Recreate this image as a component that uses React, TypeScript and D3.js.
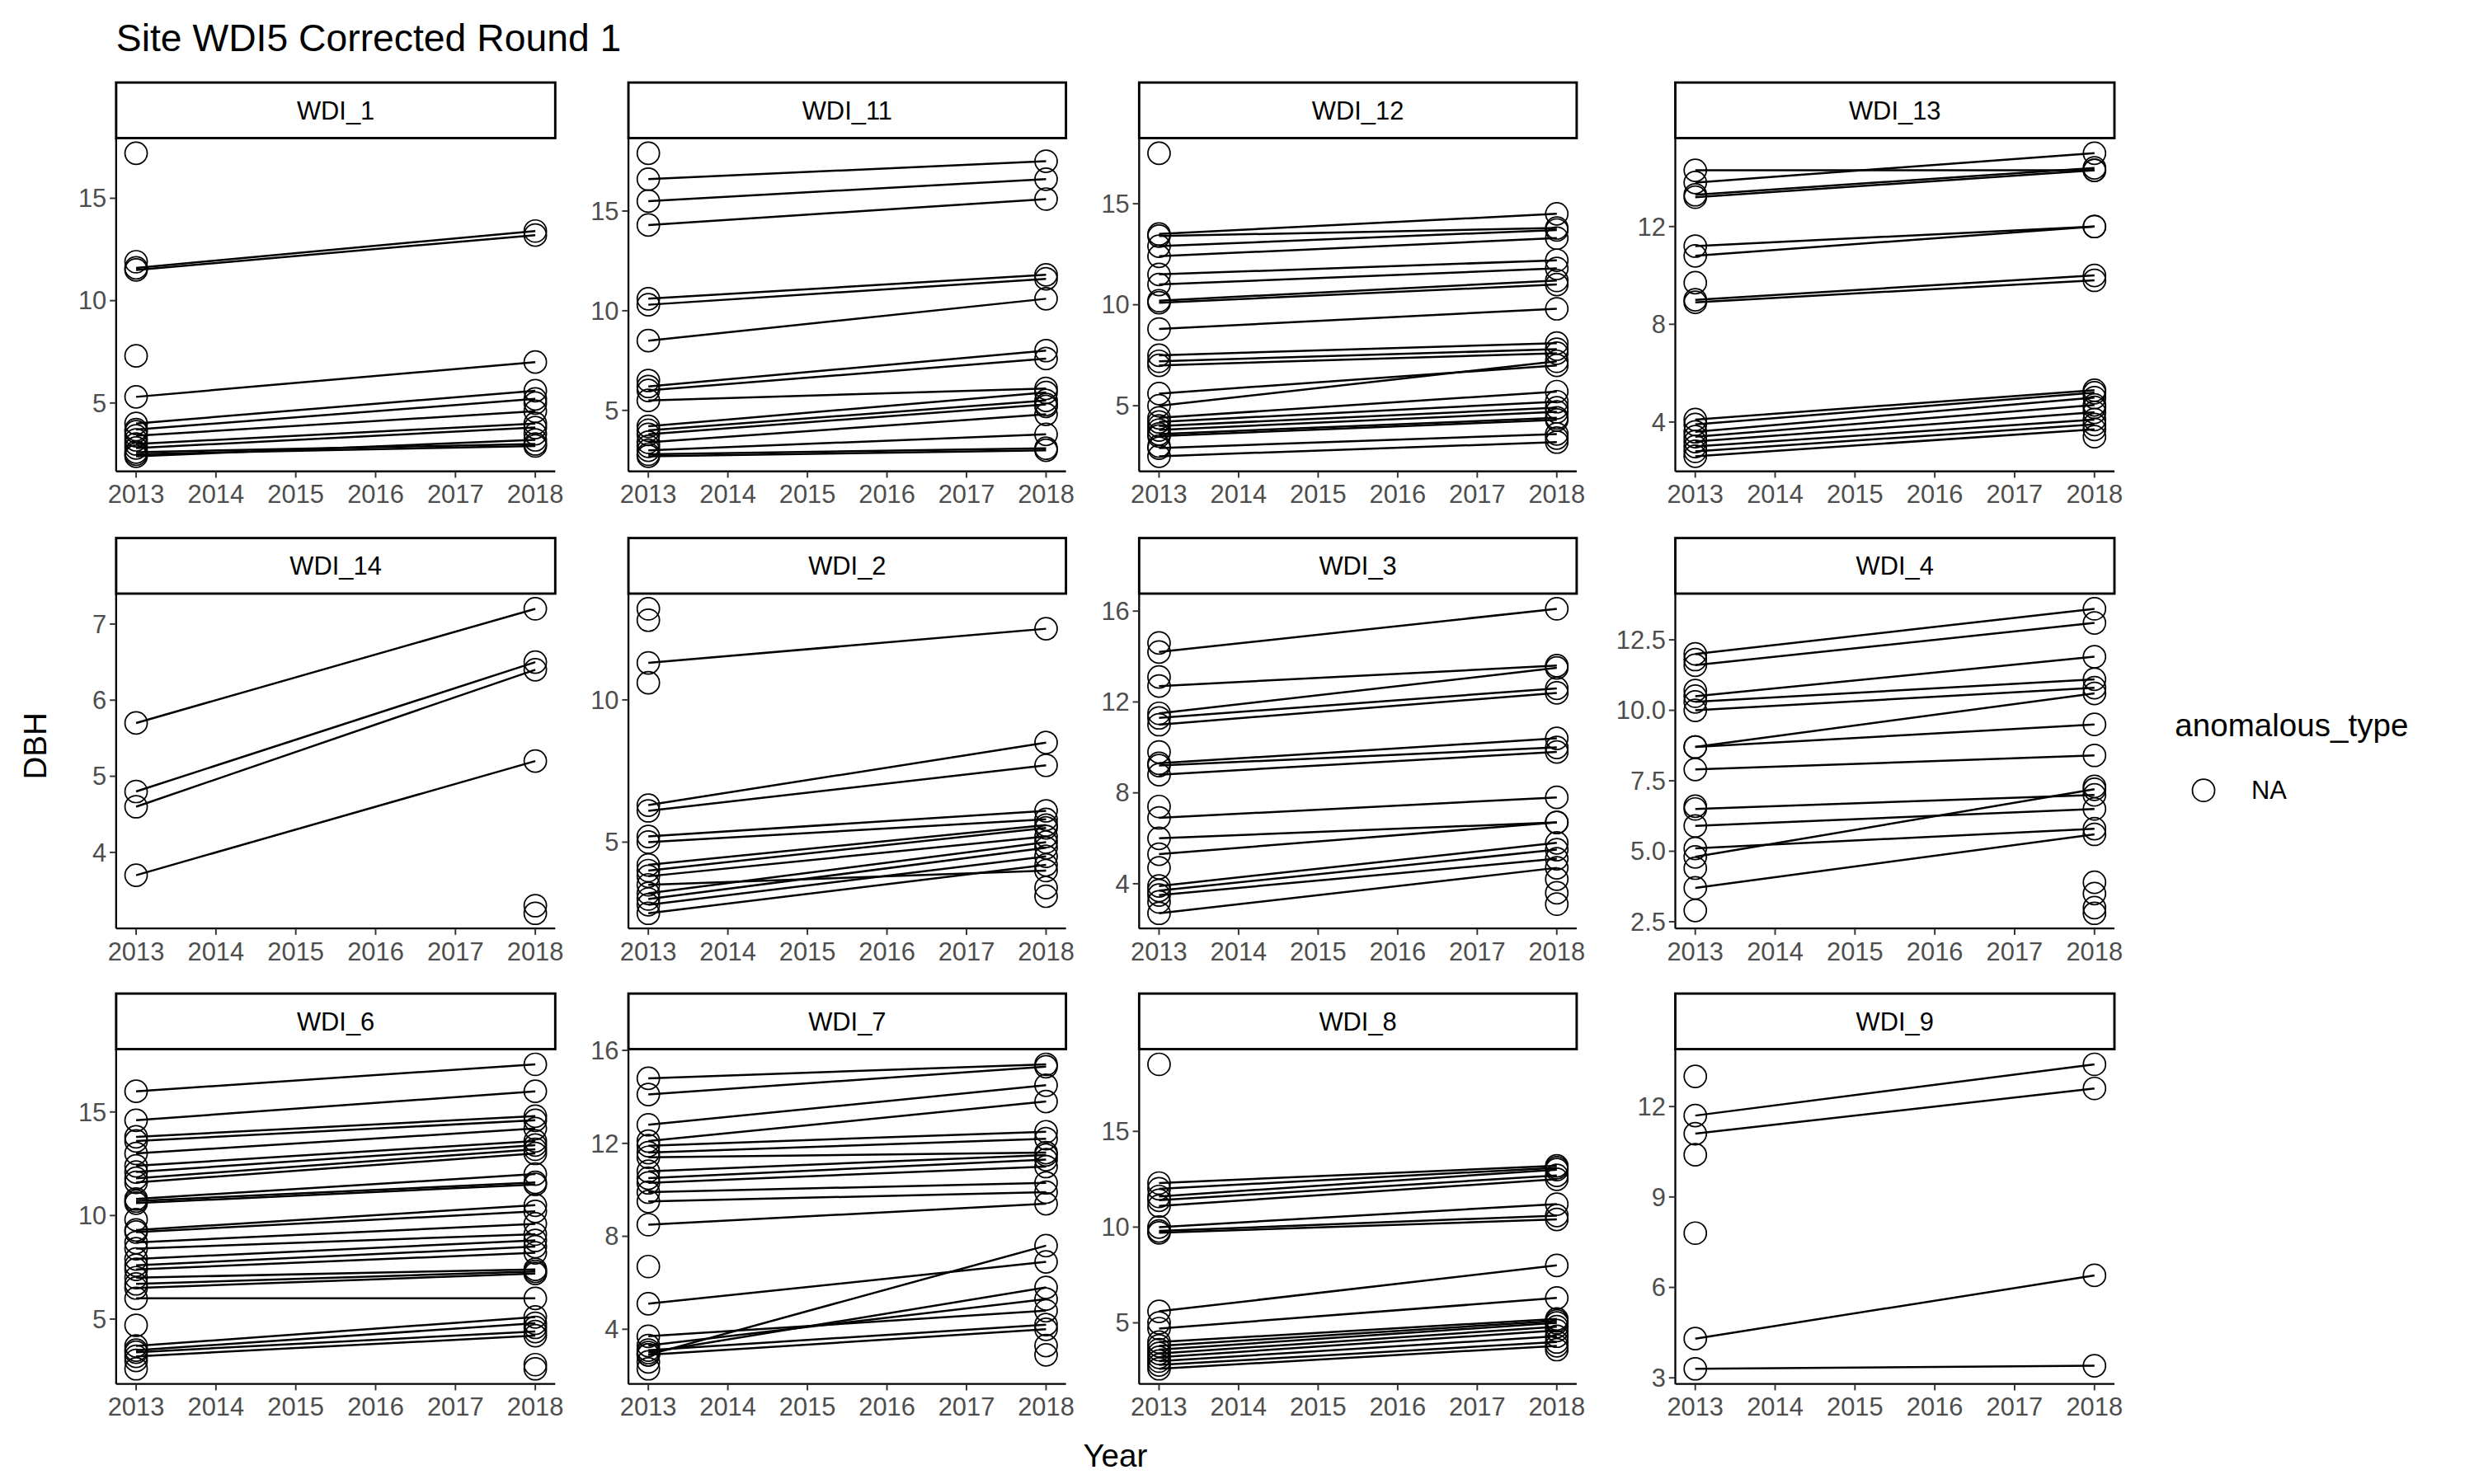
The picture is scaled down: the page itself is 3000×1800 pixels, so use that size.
import React from "react";
import * as d3 from "d3";

type Panel = {
	name: string;
	pairs: [number, number][];
	only2013: number[];
	only2018: number[];
	ticks: number[];
};

const years = [2013, 2014, 2015, 2016, 2017, 2018];

const wdi1: Panel = {
	name: "WDI_1",
	pairs: [[11.6, 13.4], [11.5, 13.2], [5.3, 7.0], [4.0, 5.6], [3.7, 5.2], [3.4, 4.6], [3.0, 4.0], [2.8, 3.8], [2.6, 3.0], [2.5, 2.9], [2.4, 3.2]],
	only2013: [17.2, 11.9, 7.3, 3.6, 3.2],
	only2018: [5.0, 3.5],
	ticks: [5, 10, 15],
};
const wdi11: Panel = {
	name: "WDI_11",
	pairs: [[16.6, 17.5], [15.5, 16.6], [14.3, 15.6], [10.6, 11.8], [10.3, 11.6], [8.5, 10.6], [6.2, 8.0], [6.0, 7.6], [5.5, 6.1], [4.2, 5.9], [4.0, 5.5], [3.8, 5.3], [3.4, 4.8], [3.0, 3.8], [2.8, 3.1], [2.7, 3.0]],
	only2013: [17.9, 6.5, 3.2],
	only2018: [5.2],
	ticks: [5, 10, 15],
};
const wdi12: Panel = {
	name: "WDI_12",
	pairs: [[13.5, 14.5], [13.4, 13.8], [12.9, 13.7], [12.4, 13.3], [11.5, 12.2], [11.0, 11.8], [10.2, 11.2], [10.1, 11.0], [8.8, 9.8], [7.5, 8.1], [7.2, 7.8], [7.0, 7.6], [5.6, 7.0], [5.0, 7.2], [4.4, 5.7], [4.2, 5.2], [4.0, 4.9], [3.8, 4.7], [3.6, 4.4], [3.5, 4.3], [2.9, 3.6], [2.5, 3.2]],
	only2013: [17.5, 3.0],
	only2018: [3.4],
	ticks: [5, 10, 15],
};
const wdi13: Panel = {
	name: "WDI_13",
	pairs: [[14.3, 14.3], [13.8, 15.0], [13.3, 14.4], [13.2, 14.3], [11.2, 12.0], [10.8, 12.0], [9.0, 10.0], [8.9, 9.8], [4.1, 5.3], [3.9, 5.2], [3.6, 5.0], [3.4, 4.7], [3.2, 4.4], [3.0, 4.1], [2.8, 3.9], [2.6, 3.7]],
	only2013: [9.7],
	only2018: [3.4, 4.6],
	ticks: [4, 8, 12],
};
const wdi14: Panel = {
	name: "WDI_14",
	pairs: [[5.7, 7.2], [4.8, 6.5], [4.6, 6.4], [3.7, 5.2]],
	only2013: [],
	only2018: [3.3, 3.2],
	ticks: [4, 5, 6, 7],
};
const wdi2: Panel = {
	name: "WDI_2",
	pairs: [[11.3, 12.5], [6.3, 8.5], [6.1, 7.7], [5.2, 6.1], [5.0, 5.8], [4.2, 5.6], [4.0, 5.5], [3.8, 5.2], [3.2, 5.0], [3.0, 4.8], [2.8, 4.5], [2.5, 4.2], [3.5, 4.0]],
	only2013: [13.2, 12.8, 10.6],
	only2018: [3.4, 3.1],
	ticks: [5, 10],
};
const wdi3: Panel = {
	name: "WDI_3",
	pairs: [[14.2, 16.1], [12.7, 13.6], [11.5, 13.5], [11.3, 12.6], [11.0, 12.4], [9.3, 10.4], [9.2, 10.0], [8.8, 9.8], [6.9, 7.8], [6.0, 6.7], [5.3, 6.7], [3.9, 5.8], [3.7, 5.5], [3.5, 5.1], [2.7, 4.7]],
	only2013: [14.6, 13.1, 9.8, 7.4, 4.7, 3.2],
	only2018: [4.2, 3.6, 3.1],
	ticks: [4, 8, 12, 16],
};
const wdi4: Panel = {
	name: "WDI_4",
	pairs: [[12.0, 13.6], [11.6, 13.1], [10.5, 11.9], [10.3, 11.1], [10.0, 10.8], [8.7, 10.6], [8.7, 9.5], [7.9, 8.4], [6.5, 7.0], [5.9, 6.5], [5.1, 5.8], [4.8, 7.2], [3.7, 5.6]],
	only2013: [11.8, 10.7, 6.6, 4.4, 2.9],
	only2018: [3.9, 3.5, 3.0, 2.8, 7.3],
	ticks: [2.5, 5, 7.5, 10, 12.5],
};
const wdi6: Panel = {
	name: "WDI_6",
	pairs: [[16.0, 17.3], [14.6, 16.0], [13.8, 14.8], [13.6, 14.6], [13.0, 14.2], [12.4, 13.6], [12.1, 13.4], [11.8, 13.2], [11.6, 13.0], [10.8, 12.0], [10.7, 11.6], [10.6, 11.5], [9.3, 10.5], [9.2, 10.2], [8.7, 9.6], [8.4, 9.1], [7.9, 8.8], [7.6, 8.5], [7.4, 8.2], [7.0, 7.4], [6.7, 7.3], [6.5, 7.2], [6.0, 6.0], [3.7, 5.1], [3.5, 4.8], [3.4, 4.4], [3.2, 4.2]],
	only2013: [4.7, 3.0, 2.6, 9.8],
	only2018: [2.8, 2.6, 4.6],
	ticks: [5, 10, 15],
};
const wdi7: Panel = {
	name: "WDI_7",
	pairs: [[14.8, 15.4], [14.1, 15.3], [12.8, 14.5], [12.1, 13.8], [11.9, 12.5], [11.6, 12.2], [11.4, 11.6], [10.8, 11.5], [10.5, 11.3], [10.3, 11.0], [9.9, 10.3], [9.5, 9.9], [8.5, 9.4], [5.1, 6.9], [3.7, 4.8], [3.3, 5.3], [3.1, 4.2], [3.0, 5.8], [2.9, 7.6], [2.9, 4.0]],
	only2013: [6.7, 2.6, 2.3],
	only2018: [3.3, 2.9],
	ticks: [4, 8, 12, 16],
};
const wdi8: Panel = {
	name: "WDI_8",
	pairs: [[12.3, 13.2], [12.0, 13.1], [11.6, 13.0], [11.4, 12.7], [11.1, 12.5], [10.0, 11.2], [9.8, 10.6], [9.7, 10.4], [5.6, 8.0], [4.7, 6.3], [4.0, 5.2], [3.8, 5.1], [3.6, 5.0], [3.4, 4.8], [3.2, 4.6], [3.0, 4.3], [2.8, 4.0], [2.6, 3.8]],
	only2013: [18.5, 5.0],
	only2018: [3.6],
	ticks: [5, 10, 15],
};
const wdi9: Panel = {
	name: "WDI_9",
	pairs: [[11.7, 13.4], [11.1, 12.6], [4.3, 6.4], [3.3, 3.4]],
	only2013: [13.0, 10.4, 7.8],
	only2018: [],
	ticks: [3, 6, 9, 12],
};

const panels = [wdi1, wdi11, wdi12, wdi13, wdi14, wdi2, wdi3, wdi4, wdi6, wdi7, wdi8, wdi9];

// layout in 1555x935 units, scaled to 3000x1800 by the viewBox
const colX: [number, number][] = [[73, 349], [395, 670], [716, 991], [1053, 1329]];
const rowY: [number, number][] = [[87, 297], [374, 585], [661, 872]];
const stripH = 35;
const font = "'Liberation Sans', Arial, sans-serif";
const grey = "#4D4D4D";

function PanelView({ p, i }: { p: Panel; i: number }) {
	const [x0, x1] = colX[i % 4];
	const [y0, y1] = rowY[Math.floor(i / 4)];
	const all = [...p.pairs.flat(), ...p.only2013, ...p.only2018];
	const [mn, mx] = d3.extent(all) as [number, number];
	const pad = (mx - mn) * 0.05;
	const y = d3.scaleLinear().domain([mn - pad, mx + pad]).range([y1, y0]);
	const x = d3.scaleLinear().domain([2012.75, 2018.25]).range([x0, x1]);
	const fmt = p.name === "WDI_4" ? d3.format(".1f") : d3.format("d");
	const pts: [number, number][] = [
		...p.pairs.flatMap(([a, b]) => [[2013, a], [2018, b]] as [number, number][]),
		...p.only2013.map((v) => [2013, v] as [number, number]),
		...p.only2018.map((v) => [2018, v] as [number, number]),
	];
	return (
		<g>
			<rect x={x0} y={y0 - stripH} width={x1 - x0} height={stripH} fill="white" stroke="black" strokeWidth={1.5} />
			<text x={(x0 + x1) / 2} y={y0 - stripH / 2} dy="0.35em" textAnchor="middle" fontSize={16} fontFamily={font}>
				{p.name}
			</text>
			{p.pairs.map(([a, b], k) => (
				<line key={"l" + k} x1={x(2013)} y1={y(a)} x2={x(2018)} y2={y(b)} stroke="black" strokeWidth={1.3} />
			))}
			{pts.map(([yr, v], k) => (
				<circle key={"c" + k} cx={x(yr)} cy={y(v)} r={7} fill="none" stroke="black" strokeWidth={0.9} />
			))}
			<line x1={x0} y1={y0} x2={x0} y2={y1} stroke="black" strokeWidth={1.2} />
			<line x1={x0} y1={y1} x2={x1} y2={y1} stroke="black" strokeWidth={1.2} />
			{p.ticks.map((t) => (
				<g key={"y" + t}>
					<line x1={x0 - 4} x2={x0} y1={y(t)} y2={y(t)} stroke="#333" strokeWidth={1} />
					<text x={x0 - 6} y={y(t)} dy="0.35em" textAnchor="end" fontSize={16} fill={grey} fontFamily={font}>
						{fmt(t)}
					</text>
				</g>
			))}
			{years.map((yr) => (
				<g key={"x" + yr}>
					<line x1={x(yr)} x2={x(yr)} y1={y1} y2={y1 + 4} stroke="#333" strokeWidth={1} />
					<text x={x(yr)} y={y1 + 20} textAnchor="middle" fontSize={16} fill={grey} fontFamily={font}>
						{yr}
					</text>
				</g>
			))}
		</g>
	);
}

export default function App() {
	return (
		<svg
			width={3000}
			height={1800}
			viewBox="0 0 1555 935"
			preserveAspectRatio="none"
			style={{ position: "absolute", left: 0, top: 0, background: "white" }}
		>
			<rect width={1555} height={935} fill="white" />
			<text x={73} y={32} fontSize={24} fontFamily={font}>
				Site WDI5 Corrected Round 1
			</text>
			{panels.map((p, i) => (
				<PanelView key={p.name} p={p} i={i} />
			))}
			<text x={701} y={924} textAnchor="middle" fontSize={20} fontFamily={font}>
				Year
			</text>
			<text transform="translate(29,470) rotate(-90)" textAnchor="middle" fontSize={20} fontFamily={font}>
				DBH
			</text>
			<text x={1367} y={464} fontSize={20} fontFamily={font}>
				anomalous_type
			</text>
			<circle cx={1385} cy={498} r={7} fill="none" stroke="black" strokeWidth={0.9} />
			<text x={1415} y={498} dy="0.35em" fontSize={16} fontFamily={font}>
				NA
			</text>
		</svg>
	);
}
